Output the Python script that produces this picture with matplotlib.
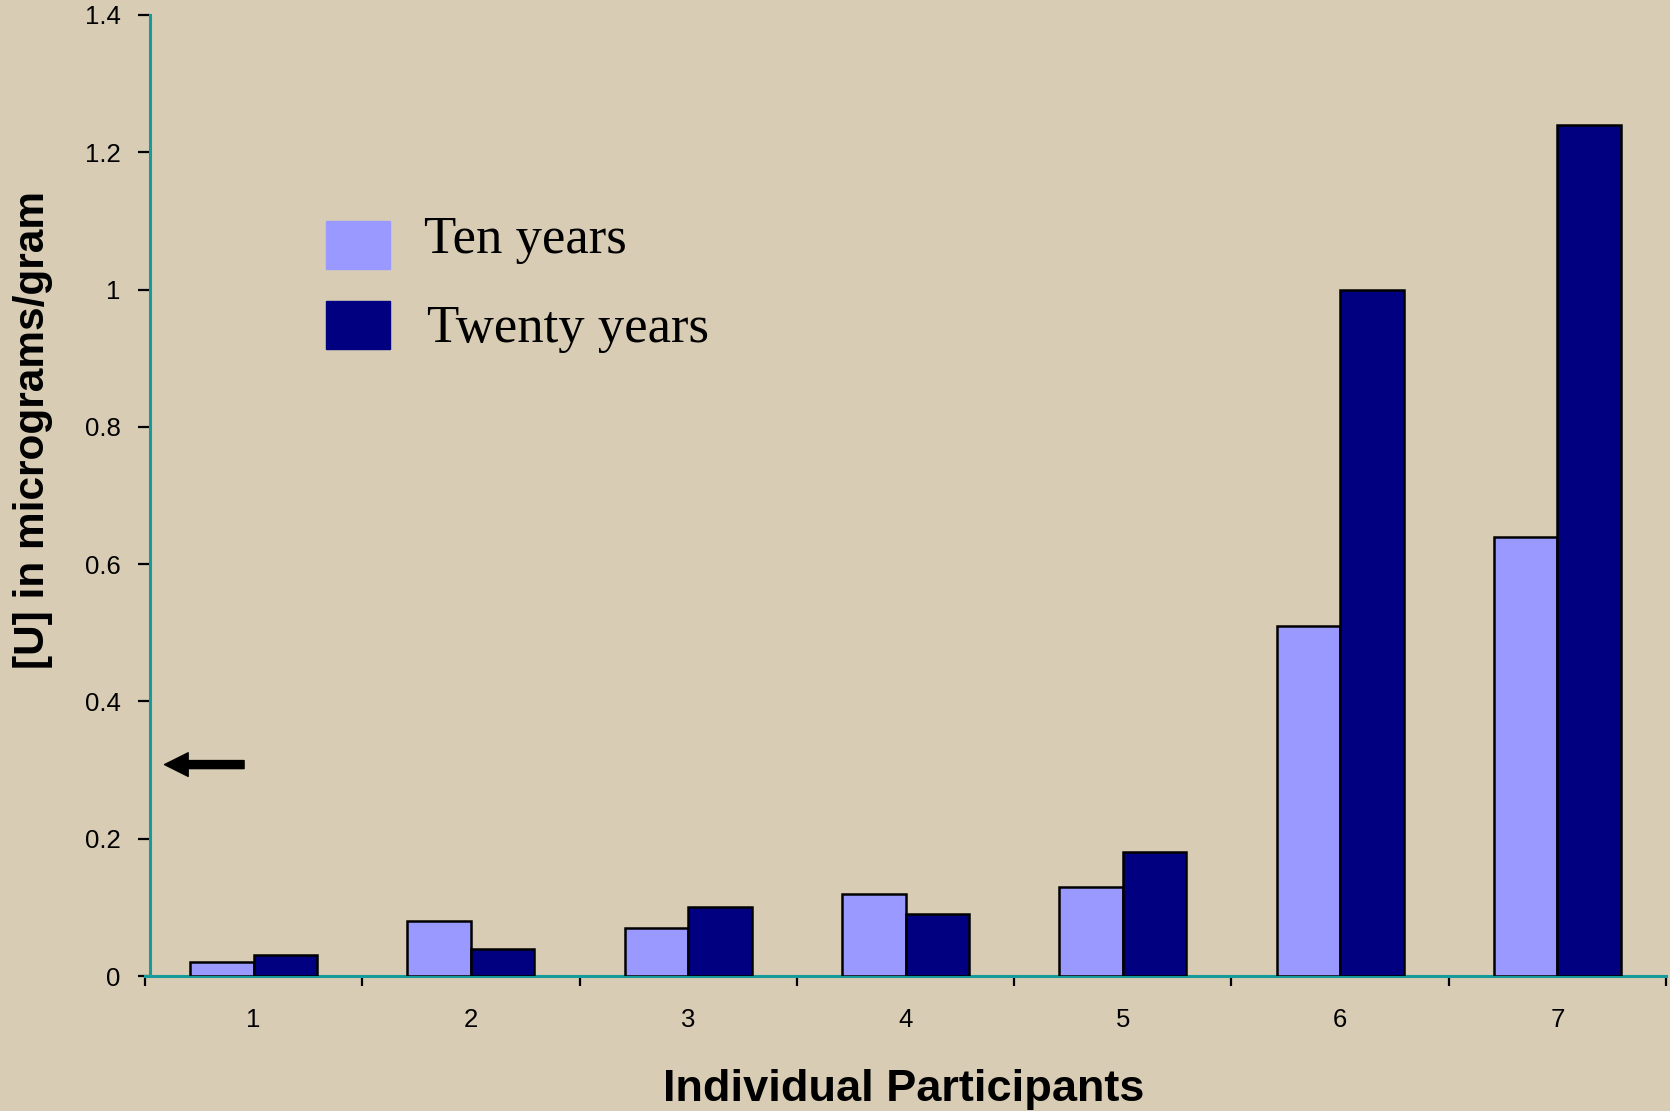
import numpy as np
import matplotlib
matplotlib.use("Agg")
import matplotlib.pyplot as plt
from matplotlib.patches import Rectangle
from matplotlib.ticker import FormatStrFormatter, FixedLocator

participants = ["1", "2", "3", "4", "5", "6", "7"]
series_names = ["Ten years", "Twenty years"]
ten_years = [0.02, 0.08, 0.07, 0.12, 0.13, 0.51, 0.64]
twenty_years = [0.03, 0.04, 0.10, 0.09, 0.18, 1.00, 1.24]
arrow_level = 0.308

bg = "#d8ccb5"
light = "#9999ff"
dark = "#000080"
teal = "#169b9b"

fig = plt.figure(figsize=(16.7, 11.11), dpi=100, facecolor=bg)
ax = fig.add_axes([145/1670, 1-976/1111, (1666-145)/1670, (976-15)/1111])
ax.set_facecolor("none")

x = np.arange(1, len(participants)+1)
w = 0.292
ax.bar(x - w/2, ten_years, w, color=light, edgecolor="black", linewidth=1.8, zorder=3)
ax.bar(x + w/2, twenty_years, w, color=dark, edgecolor="black", linewidth=1.8, zorder=3)

ax.set_xlim(0.5, 7.5)
ax.set_ylim(0, 1.4)

for s in ["top", "right"]:
    ax.spines[s].set_visible(False)
for s in ["left", "bottom"]:
    ax.spines[s].set_color(teal)
    ax.spines[s].set_linewidth(2.2)
# y axis sits a few pixels right of the first category boundary
ax.spines["left"].set_position(("outward", -3.6))

ax.set_yticks(np.arange(0, 1.41, 0.2))
ax.yaxis.set_major_formatter(FormatStrFormatter("%g"))
ax.tick_params(axis="y", direction="out", length=9, width=1.6, color="black",
               pad=12, labelsize=18.5)
ax.set_xticks(x)
ax.set_xticklabels(participants)
ax.xaxis.set_minor_locator(FixedLocator(np.arange(0.5, 7.6, 1.0)))
ax.tick_params(axis="x", which="major", length=0, pad=23, labelsize=18.5)
ax.tick_params(axis="x", which="minor", direction="out", length=7, width=1.6, color="black")
for lab in ax.get_xticklabels() + ax.get_yticklabels():
    lab.set_family("Liberation Sans")

# arrow pointing at the y axis
ax.annotate("", xy=(0.59, arrow_level), xytext=(0.956, arrow_level),
            arrowprops=dict(width=5.8, headwidth=17, headlength=17, shrink=0,
                            color="black"), zorder=4)

# legend
for i, (name, col) in enumerate(zip(series_names, [light, dark])):
    y0 = 221 + i*80
    fig.patches.append(Rectangle((326/1670, 1-(y0+48)/1111), 64/1670, 48/1111,
                                 transform=fig.transFigure, color=col))
    fig.text((424 + 3*i)/1670, 1-(y0+32+9*i)/1111, name, family="Liberation Serif",
             fontsize=38, ha="left", va="baseline")

fig.text(33/1670, 1-430/1111, "[U] in micrograms/gram", rotation=90,
         family="Liberation Sans", weight="bold", fontsize=30.5,
         ha="center", va="center")
fig.text(904/1670, 1-1090/1111, "Individual Participants",
         family="Liberation Sans", weight="bold", fontsize=32.5,
         ha="center", va="center")

fig.savefig("out.png", dpi=100, facecolor=bg)
